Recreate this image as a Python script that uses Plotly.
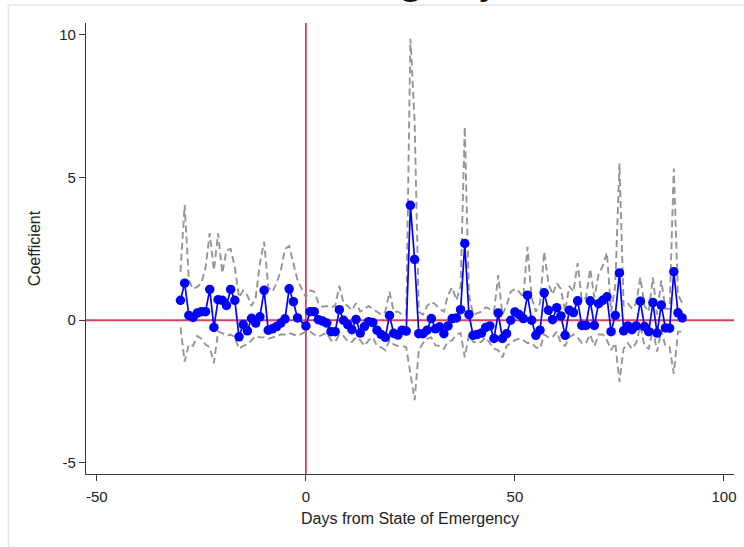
import plotly.graph_objects as go

# Event-study estimates by day relative to the State of Emergency (day -1 is the reference)
days = [-30, -29, -28, -27, -26, -25, -24, -23, -22, -21, -20, -19, -18, -17, -16, -15,
        -14, -13, -12, -11, -10, -9, -8, -7, -6, -5, -4, -3, -2,
        0, 1, 2, 3, 4, 5, 6, 7, 8, 9, 10, 11, 12, 13, 14, 15, 16, 17, 18, 19, 20,
        21, 22, 23, 24, 25, 26, 27, 28, 29, 30, 31, 32, 33, 34, 35, 36, 37, 38, 39, 40,
        41, 42, 43, 44, 45, 46, 47, 48, 49, 50, 51, 52, 53, 54, 55, 56, 57, 58, 59, 60,
        61, 62, 63, 64, 65, 66, 67, 68, 69, 70, 71, 72, 73, 74, 75, 76, 77, 78, 79, 80,
        81, 82, 83, 84, 85, 86, 87, 88, 89, 90]

coef = [0.70, 1.30, 0.17, 0.10, 0.25, 0.30, 0.30, 1.08, -0.25, 0.72, 0.70, 0.52, 1.08, 0.70, -0.58, -0.15,
        -0.37, 0.07, -0.10, 0.12, 1.05, -0.35, -0.30, -0.22, -0.10, 0.05, 1.10, 0.65, 0.08,
        -0.20, 0.30, 0.30, 0.02, -0.03, -0.10, -0.40, -0.40, 0.37, 0.00, -0.15, -0.33, 0.03, -0.45, -0.22, -0.05, -0.08, -0.35, -0.50, -0.60, 0.17,
        -0.46, -0.52, -0.35, -0.38, 4.03, 2.13, -0.47, -0.47, -0.35, 0.06, -0.30, -0.23, -0.47, -0.20, 0.06, 0.08, 0.37, 2.69, 0.20, -0.53,
        -0.50, -0.45, -0.25, -0.20, -0.64, 0.25, -0.64, -0.47, 0.00, 0.29, 0.20, 0.06, 0.88, 0.00, -0.53, -0.35, 0.96, 0.35, 0.02, 0.44,
        0.15, -0.53, 0.35, 0.27, 0.68, -0.18, -0.18, 0.68, -0.18, 0.58, 0.70, 0.82, -0.40, 0.17, 1.66, -0.37, -0.20, -0.33, -0.20, 0.67,
        -0.22, -0.40, 0.62, -0.45, 0.53, -0.27, -0.28, 1.70, 0.26, 0.08]

ci_upper = [1.70, 4.05, 1.40, 1.10, 1.17, 1.30, 1.85, 3.05, 1.75, 3.05, 1.65, 2.45, 2.50, 1.85, 0.80, 1.05,
            0.87, 0.50, 0.80, 2.00, 2.75, 1.15, 1.00, 1.30, 1.75, 2.50, 2.60, 2.00, 1.40,
            0.80, 1.05, 1.00, 0.60, 0.47, 0.50, 0.45, 0.50, 1.20, 0.60, 0.50, 0.35, 0.60, 0.30, 0.40, 0.50, 0.40, 0.30, 0.20, 0.30, 1.00,
            0.30, 0.30, 0.20, 0.20, 9.87, 7.00, 0.30, 0.20, 0.50, 0.65, 0.55, 0.40, 0.30, 0.90, 1.15, 0.70, 1.20, 6.78, 0.90, 0.20,
            0.25, 0.30, 0.45, 0.40, 0.30, 1.58, 0.20, 0.50, 1.00, 1.10, 1.00, 0.80, 2.57, 0.80, 0.30, 0.60, 2.40, 1.30, 0.90, 1.30,
            1.10, 0.30, 1.20, 1.00, 2.00, 0.70, 0.80, 1.80, 0.80, 1.60, 1.90, 2.37, 0.30, 1.20, 5.49, 0.50, 0.60, 0.40, 0.60, 1.50,
            0.50, 0.30, 1.50, 0.20, 1.40, 0.40, 0.40, 5.32, 0.90, 0.60]

ci_lower = [-0.25, -1.45, -0.85, -0.90, -0.55, -0.65, -0.85, -0.95, -1.50, -0.40, -0.45, -0.55, -0.50, -0.60, -1.00, -0.90,
            -0.85, -0.70, -0.55, -0.60, -0.60, -0.65, -0.60, -0.55, -0.50, -0.50, -0.45, -0.50, -0.55,
            -0.40, -0.40, -0.50, -0.58, -0.50, -0.45, -0.70, -0.76, -0.50, -0.55, -0.75, -0.76, -0.60, -0.70, -0.90, -0.70, -0.60, -0.90, -0.95, -1.05, -0.70,
            -0.85, -0.90, -0.90, -0.95, -1.80, -2.80, -1.05, -0.80, -0.65, -0.60, -0.88, -0.90, -1.00, -0.75, -0.70, -0.50, -0.45, -1.30, -0.50, -0.75,
            -0.80, -0.75, -0.60, -0.80, -1.00, -1.05, -1.30, -0.90, -0.80, -0.70, -0.65, -0.70, -0.80, -0.80, -0.95, -1.00, -0.50, -0.60, -0.60, -0.40,
            -0.80, -0.90, -0.60, -0.50, -0.60, -0.80, -0.80, -0.50, -0.90, -0.50, -0.50, -0.70, -1.05, -0.80, -2.16, -1.00, -0.80, -1.00, -0.80, -0.20,
            -0.90, -1.00, -0.30, -1.10, -0.35, -0.90, -0.95, -1.87, -0.40, -0.40]

x_ticks = [-50, 0, 50, 100]
y_ticks = [-5, 0, 5, 10]

BLUE = "#0000ff"
CI_GRAY = "#959595"
REF_RED = "#d8405f"
AXIS = "#3a3a3a"
FONT = "Liberation Sans, Arial, sans-serif"

fig = go.Figure()

# Confidence bounds
for bound in (ci_upper, ci_lower):
    fig.add_trace(go.Scatter(
        x=days, y=bound, mode="lines",
        line=dict(color=CI_GRAY, width=1.9, dash="7px,4px"),
        hoverinfo="skip", showlegend=False,
    ))

# Point estimates
fig.add_trace(go.Scatter(
    x=days, y=coef, mode="lines+markers",
    line=dict(color=BLUE, width=1.7),
    marker=dict(color=BLUE, size=9.5),
    showlegend=False,
))

# Reference lines at zero
fig.add_hline(y=0, line=dict(color=REF_RED, width=1.8), layer="below")
fig.add_vline(x=0, line=dict(color=REF_RED, width=1.8), layer="below")

# Light outer frame of the graph region
fig.add_shape(type="rect", xref="paper", yref="paper",
              x0=-0.12, x1=1.2, y0=-0.3, y1=1.04,
              line=dict(color="#e3e8ec", width=1.5), fillcolor="rgba(0,0,0,0)",
              layer="below")

# Heading above the frame
fig.add_annotation(xref="paper", yref="paper", x=0.641, y=1.037,
                   xanchor="right", yanchor="bottom", showarrow=False,
                   text="Emergency", font=dict(family="Open Sans, sans-serif", size=36, color="#111111"))

fig.update_layout(
    width=744, height=547,
    margin=dict(l=86, r=8, t=23, b=73),
    paper_bgcolor="white", plot_bgcolor="white",
    font=dict(family=FONT, size=15, color="#222222"),
)

fig.update_xaxes(
    range=[-52.6, 102.4], tickvals=x_ticks, ticktext=[str(v) for v in x_ticks],
    showgrid=False, zeroline=False, showline=True, linecolor=AXIS, linewidth=1.2,
    ticks="outside", ticklen=6, tickcolor=AXIS, tickfont=dict(size=15),
    ticklabelstandoff=3,
    title=dict(text="Days from State of Emergency", font=dict(size=16), standoff=8),
)
fig.update_yaxes(
    range=[-5.39, 10.42], tickvals=y_ticks, ticktext=[str(v) for v in y_ticks],
    showgrid=False, zeroline=False, showline=True, linecolor=AXIS, linewidth=1.2,
    ticks="outside", ticklen=6, tickcolor=AXIS, tickfont=dict(size=15),
    title=dict(text="Coefficient", font=dict(size=16), standoff=14),
)

fig.write_html("out.html")
